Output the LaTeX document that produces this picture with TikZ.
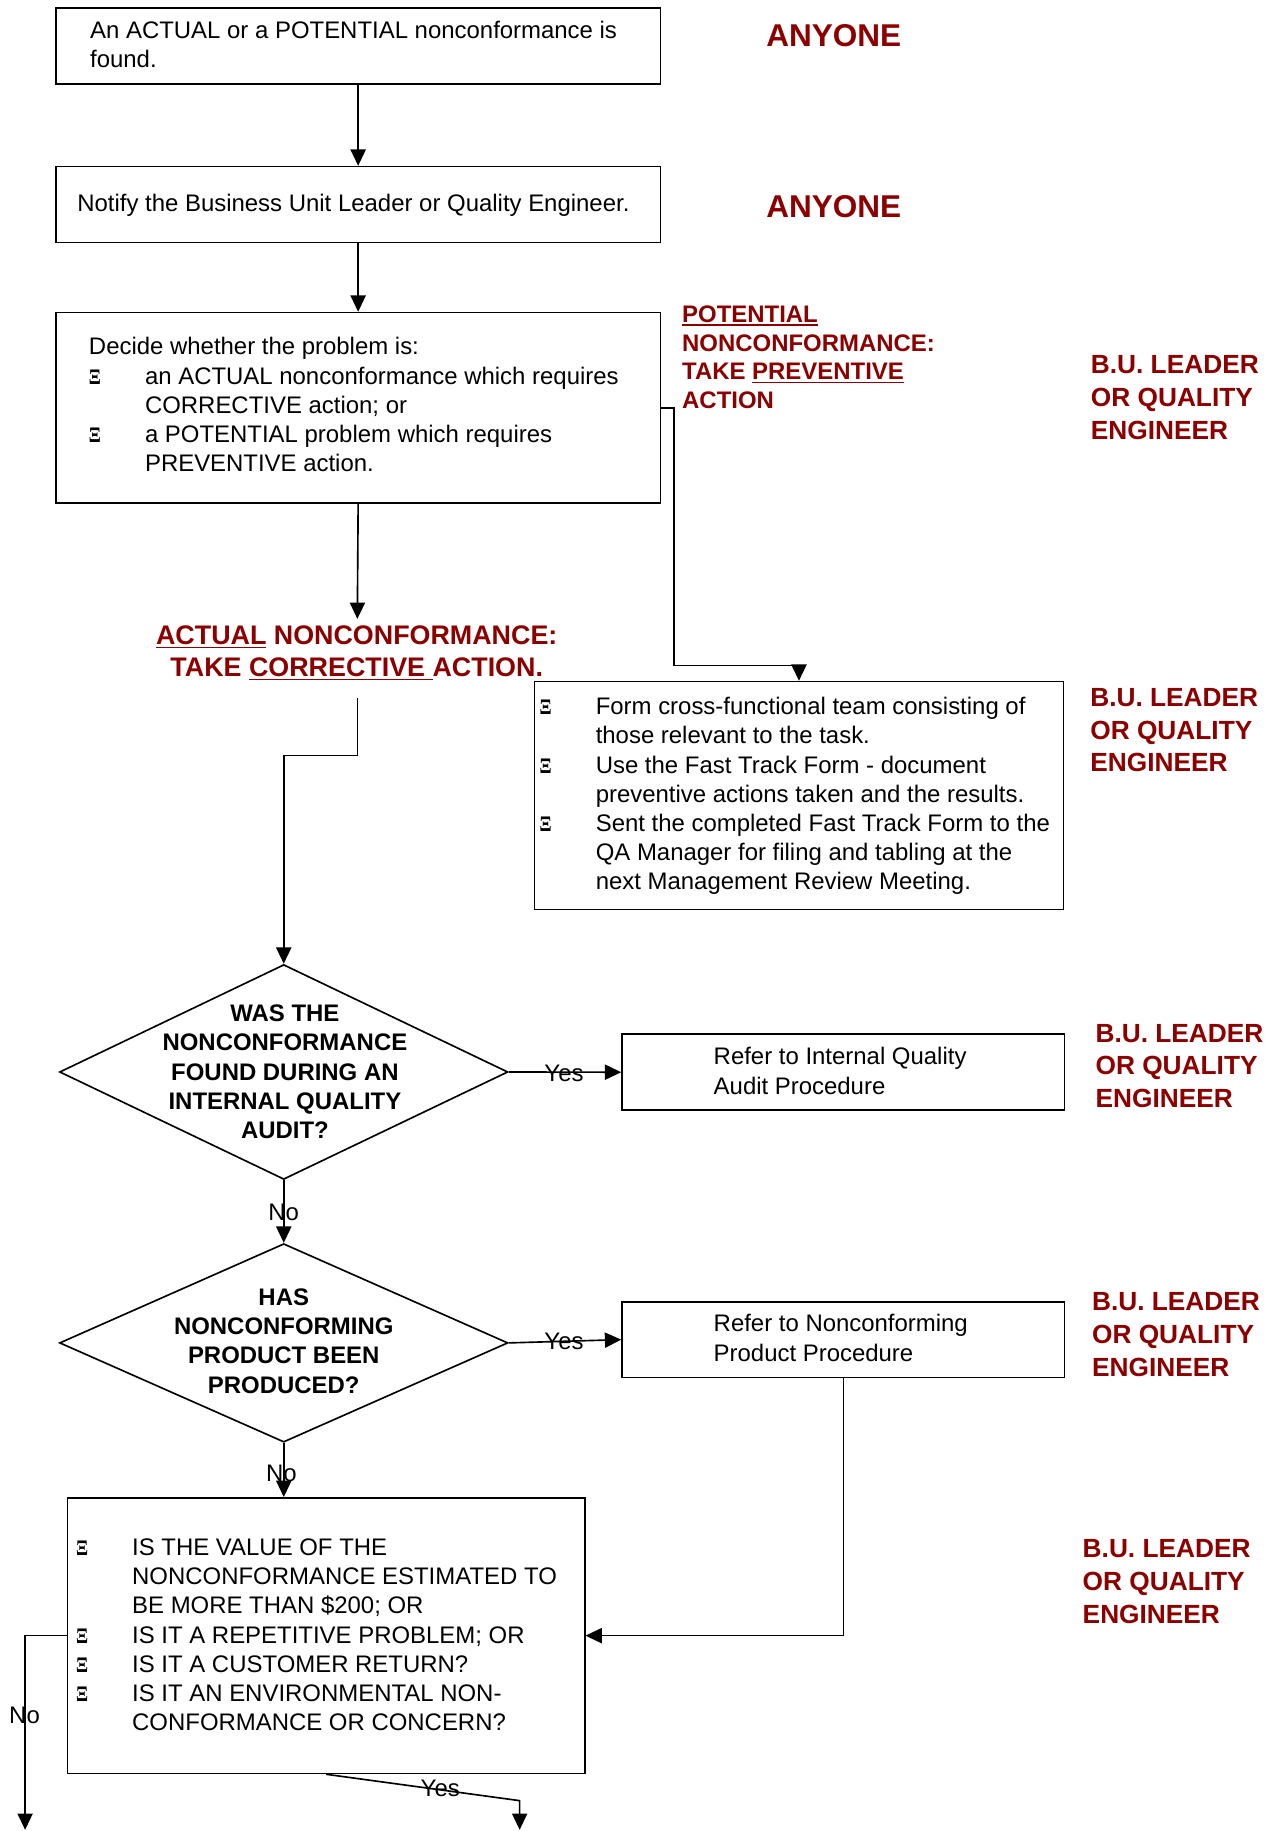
\documentclass[tikz,border=0pt]{standalone}
\usepackage{fontspec}
\usepackage{graphicx}
\setmainfont{Liberation Sans}
\newfontfamily\xifont{Liberation Serif}
\usetikzlibrary{arrows.meta,shapes.geometric}
\definecolor{rolered}{RGB}{140,0,0}

% underline drawn as a rule just below the baseline
\newcommand\ulin[1]{\setbox0\hbox{#1}\rlap{\rule[-3.2pt]{\wd0}{1.5pt}}\box0\relax}
% list marker and hanging indent
\newcommand\xim{\makebox[48pt][l]{\scalebox{0.8}[1]{\xifont\bfseries\fontsize{19}{19}\selectfont Ξ}}}
\newcommand\xin{\hspace*{48pt}}

\tikzset{
  flowbox/.style={draw, line width=1.4pt, inner sep=0pt, anchor=north west},
  decision/.style={diamond, draw, line width=1.4pt, inner sep=0pt},
  body/.style={inner sep=0pt, anchor=base west, font=\fontsize{20.5}{25}\selectfont},
  qtext/.style={inner sep=0pt, anchor=base, font=\fontsize{20.5}{25}\selectfont\bfseries},
  role/.style={inner sep=0pt, anchor=base west, text=rolered, font=\fontsize{22.5}{28}\selectfont\bfseries},
  anyone/.style={inner sep=0pt, anchor=base, text=rolered, font=\fontsize{27}{32}\selectfont\bfseries},
  tag/.style={inner sep=0pt, font=\fontsize{20.5}{25}\selectfont},
  arr/.style={line width=1.4pt, -{Triangle[length=14pt,width=13pt]}}
}

\begin{document}
\begin{tikzpicture}[x=1pt, y=-1pt]
\useasboundingbox (0,0) rectangle (1098,1568);

% process boxes
\node[flowbox, minimum width=518pt, minimum height=65pt] (found) at (47,6) {};
\node[flowbox, minimum width=518pt, minimum height=65pt] (notify) at (47,142) {};
\node[flowbox, minimum width=518pt, minimum height=163pt] (decide) at (47,267) {};
\node[flowbox, minimum width=453pt, minimum height=195pt] (prevent) at (457,583) {};
\node[flowbox, minimum width=379pt, minimum height=65pt] (audit) at (532,885) {};
\node[flowbox, minimum width=379pt, minimum height=65pt] (ncproc) at (532,1114) {};
\node[flowbox, minimum width=443pt, minimum height=236pt] (criteria) at (57,1282) {};

% decisions
\node[decision, minimum width=384pt, minimum height=184pt] (qaudit) at (243,918) {};
\node[decision, minimum width=384pt, minimum height=170pt] (qprod) at (243,1150) {};

% box texts
\node[body] (foundtxt) at (77,33) {\begin{tabular}[t]{@{}l@{}}An ACTUAL or a POTENTIAL nonconformance is\\ found.\end{tabular}};
\node[body] (notifytxt) at (66,181) {Notify the Business Unit Leader or Quality Engineer.};
\node[body] (decidetxt) at (76,304) {\begin{tabular}[t]{@{}l@{}}Decide whether the problem is:\\
\xim an ACTUAL nonconformance which requires\\
\xin CORRECTIVE action; or\\
\xim a POTENTIAL problem which requires\\
\xin PREVENTIVE action.\end{tabular}};
\node[body] (preventtxt) at (462,612) {\begin{tabular}[t]{@{}l@{}}\xim Form cross-functional team consisting of\\
\xin those relevant to the task.\\
\xim Use the Fast Track Form - document\\
\xin preventive actions taken and the results.\\
\xim Sent the completed Fast Track Form to the\\
\xin QA Manager for filing and tabling at the\\
\xin next Management Review Meeting.\end{tabular}};
\node[body] (audittxt) at (611,912) {\begin{tabular}[t]{@{}l@{}}Refer to Internal Quality\\ Audit Procedure\end{tabular}};
\node[body] (ncproctxt) at (611,1140.5) {\begin{tabular}[t]{@{}l@{}}Refer to Nonconforming\\ Product Procedure\end{tabular}};
\node[body] (criteriatxt) at (65,1332) {\begin{tabular}[t]{@{}l@{}}\xim IS THE VALUE OF THE\\
\xin NONCONFORMANCE ESTIMATED TO\\
\xin BE MORE THAN \$200; OR\\
\xim IS IT A REPETITIVE PROBLEM; OR\\
\xim IS IT A CUSTOMER RETURN?\\
\xim IS IT AN ENVIRONMENTAL NON-\\
\xin CONFORMANCE OR CONCERN?\end{tabular}};

% decision texts
\node[qtext] (qaudittxt) at (244,875) {\begin{tabular}[t]{@{}c@{}}WAS THE\\ NONCONFORMANCE\\ FOUND DURING AN\\ INTERNAL QUALITY\\ AUDIT?\end{tabular}};
\node[qtext] (qprodtxt) at (243,1118) {\begin{tabular}[t]{@{}c@{}}HAS\\ NONCONFORMING\\ PRODUCT BEEN\\ PRODUCED?\end{tabular}};

% responsibility and branch labels
\node[anyone] (anyone1) at (714,40) {ANYONE};
\node[anyone] (anyone2) at (714,186) {ANYONE};
\node[role, font=\fontsize{20.5}{24.6}\selectfont\bfseries] (potential) at (584,276) {\begin{tabular}[t]{@{}l@{}}\ulin{POTENTIAL}\\ NONCONFORMANCE:\\ TAKE \ulin{PREVENTIVE}\\ ACTION\end{tabular}};
\node[role, anchor=base, font=\fontsize{23}{27.5}\selectfont\bfseries] (actual) at (305.5,552) {\begin{tabular}[t]{@{}c@{}}\ulin{ACTUAL} NONCONFORMANCE:\\ TAKE \ulin{CORRECTIVE\ }ACTION.\end{tabular}};
\node[role] (bu1) at (934,320) {\begin{tabular}[t]{@{}l@{}}B.U. LEADER\\ OR QUALITY\\ ENGINEER\end{tabular}};
\node[role] (bu2) at (933.5,605) {\begin{tabular}[t]{@{}l@{}}B.U. LEADER\\ OR QUALITY\\ ENGINEER\end{tabular}};
\node[role] (bu3) at (938,892.5) {\begin{tabular}[t]{@{}l@{}}B.U. LEADER\\ OR QUALITY\\ ENGINEER\end{tabular}};
\node[role] (bu4) at (935,1122.5) {\begin{tabular}[t]{@{}l@{}}B.U. LEADER\\ OR QUALITY\\ ENGINEER\end{tabular}};
\node[role] (bu5) at (927,1334) {\begin{tabular}[t]{@{}l@{}}B.U. LEADER\\ OR QUALITY\\ ENGINEER\end{tabular}};

% connector end points
\coordinate (actualtop) at (306,530);
\coordinate (actualbot) at (306,598);
\coordinate (prevbend) at (577,570);
\coordinate (noend) at (21.5,1567);
\coordinate (yesbend) at (445,1542);
\coordinate (yesend) at (445,1567);

% connectors
\draw[arr] (found.south) -- (notify.north);
\draw[arr] (notify.south) -- (decide.north);
\draw[arr] (decide.south) -- (actualtop);
\draw[arr] (decide.east) -| (prevbend) -| (prevent.north);
\draw[arr] (actualbot) -- ++(0,49) -| (qaudit.north);
\draw[arr] (qaudit.east) -- (audit.west);
\draw[arr] (qaudit.south) -- (qprod.north);
\draw[arr] (qprod.east) -- (ncproc.west);
\draw[arr] (qprod.south) -- (qprod.south |- criteria.north);
\draw[arr] (ncproc.south) |- (criteria.east);
\draw[arr] (criteria.west) -| (noend);
\draw[arr] (criteria.south) -- (yesbend) -- (yesend);

% branch labels over the lines
\node[tag] (yes1) at (483,919) {Yes};
\node[tag] (yes2) at (483,1149) {Yes};
\node[tag] (yes3) at (377,1531.5) {Yes};
\node[tag] (no1) at (243,1038) {No};
\node[tag] (no2) at (241,1262) {No};
\node[tag] (no3) at (21,1469) {No};
\end{tikzpicture}
\end{document}
